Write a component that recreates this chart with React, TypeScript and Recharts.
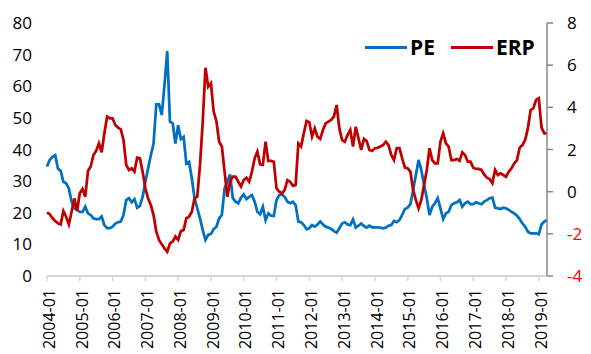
import { CartesianGrid, Line, LineChart, XAxis, YAxis } from "recharts";

// monthly, 2004-01 .. 2019-04
const months: string[] = [];
for (let y = 2004; y <= 2019; y++) {
  for (let m = 1; m <= 12; m++) {
    if (y === 2019 && m > 4) break;
    months.push(`${y}-${String(m).padStart(2, "0")}`);
  }
}

const pe = [
  34.6, 36.7, 37.7, 38.2, 34, 33.2, 29.8, 29.3, 27.7, 23.5, 21.4, 20.9,
  20.3, 20.3, 21.9, 19.8, 19.3, 18.2, 18, 18, 18.8, 16.1, 15.1, 15.1,
  15.6, 16.6, 17, 17.2, 19.3, 24, 24.6, 23.3, 24.3, 21.6, 22.2, 25,
  29.8, 34, 38.2, 41.9, 54.3, 54.3, 50.9, 60.4, 71.1, 48.8, 48.3, 41.9,
  47.7, 43.3, 44, 35.6, 36.1, 30.9, 24.6, 21.4, 18.2, 14.5, 11.4, 13,
  13.3, 14.8, 15.6, 18.2, 19.3, 27.7, 29.8, 32.1, 24.6, 23.5, 23, 24.8,
  25.8, 24.3, 25, 25.6, 23.5, 20.3, 19.5, 21.9, 17.7, 19.8, 19.1, 19,
  24, 25.6, 25.8, 25, 23.5, 23, 23.5, 22.4, 17.2, 17, 16.1, 14.8,
  15.1, 16.1, 15.6, 16.3, 17.2, 16.3, 15.6, 15.3, 14.9, 14.2, 13.7, 15.1,
  16.6, 17, 16.3, 16.1, 17.9, 15.3, 15.9, 16.6, 15.8, 15.3, 15.9, 15.4,
  15.4, 15.4, 15.3, 15.1, 15.3, 15.9, 16.1, 17.4, 17, 17.7, 19.3, 21.2,
  21.6, 22.7, 27.2, 31.9, 36.7, 33.5, 28.8, 24.6, 19.3, 21.9, 23, 24.6,
  21.4, 18, 19.8, 20.3, 22.4, 23, 23.3, 24, 21.9, 23, 23.5, 22.7,
  22.7, 23.3, 23, 22.7, 23.5, 24, 24.6, 24.8, 21.6, 21.4, 21.2, 21.6,
  21.4, 20.9, 20.3, 19.8, 19.1, 18, 16.6, 15.6, 14, 13.5, 13.5, 13.5,
  13.2, 16.3, 17.2, 17.7,
];

const erp = [
  -0.98, -1.07, -1.26, -1.39, -1.5, -1.55, -0.92, -1.19, -1.55, -0.95, -0.32, -0.92,
  -0.08, 0.13, -0.24, 0.98, 1.19, 1.74, 1.93, 2.29, 1.87, 2.77, 3.56, 3.48,
  3.48, 3.16, 3.04, 2.96, 2.45, 1.27, 1.03, 1.11, 0.95, 1.61, 1.58, 0.95,
  0.16, -0.32, -0.63, -1.11, -1.9, -2.29, -2.5, -2.69, -2.85, -2.45, -2.37, -2.13,
  -2.29, -1.87, -1.82, -1.26, -1.19, -0.95, -0.32, -0.24, 1.27, 3.32, 5.88, 4.98,
  5.14, 3.8, 3.35, 2.37, 2.14, 0.95, -0.24, 0.47, 0.71, 0.71, 0.47, 0.24,
  0.55, 0.66, 0.47, 0.95, 1.58, 1.9, 1.3, 1.27, 2.37, 1.46, 1.46, 1.42,
  0.16, 0, -0.08, 0.08, 0.55, 0.47, 0.28, 0.32, 2.29, 2.14, 2.77, 3.35,
  3.29, 2.61, 3.0, 2.61, 2.5, 2.93, 3.24, 3.32, 3.4, 3.56, 4.11, 3.0,
  2.45, 2.37, 2.69, 2.93, 2.14, 3.08, 2.53, 1.98, 2.5, 2.4, 1.98, 1.93,
  2.06, 2.08, 2.14, 2.21, 2.37, 2.21, 1.74, 1.5, 2.06, 2.06, 1.58, 1.14,
  1.11, 0.95, 0.08, -0.39, -0.79, -0.39, 0.32, 1.03, 2.06, 1.5, 1.34, 1.34,
  2.37, 2.77, 2.29, 2.14, 1.5, 1.5, 1.55, 1.46, 1.87, 1.74, 1.42, 1.42,
  1.14, 1.08, 1.08, 1.03, 0.82, 0.66, 0.6, 0.4, 1.03, 0.79, 0.87, 0.79,
  0.71, 0.95, 1.11, 1.34, 1.5, 2.09, 2.21, 2.45, 3.0, 3.87, 3.95, 4.35,
  4.43, 3.04, 2.77, 2.77,
];

const peTicks = [0, 10, 20, 30, 40, 50, 60, 70, 80];
const erpTicks = [-4, -2, 0, 2, 4, 6, 8];

const data = months.map((month, i) => ({ month, PE: pe[i], ERP: erp[i] }));

const FONT = "'Open Sans', 'DejaVu Sans', sans-serif";
const BLUE = "#0070C0";
const RED = "#C00000";

function MonthTick({ x, y, payload }: any) {
  return (
    <text
      x={x + 2}
      y={y}
      transform={`rotate(-90, ${x + 2}, ${y})`}
      textAnchor="end"
      dy="0.36em"
      fontSize={16}
      fontFamily={FONT}
      fill="#000"
    >
      {payload.value}
    </text>
  );
}

function ErpTick({ x, y, payload }: any) {
  return (
    <text
      x={x}
      y={y}
      dy="0.36em"
      textAnchor="start"
      fontSize={17}
      fontFamily={FONT}
      fill={payload.value < 0 ? "#FF0000" : "#000"}
    >
      {payload.value}
    </text>
  );
}

function LegendItem({ color, label }: { color: string; label: string }) {
  return (
    <div style={{ display: "flex", alignItems: "center", marginRight: 16 }}>
      <div style={{ width: 42, height: 3, background: color, marginRight: 3 }} />
      <span style={{ fontFamily: FONT, fontWeight: 700, fontSize: 21, color: "#000", lineHeight: "24px" }}>
        {label}
      </span>
    </div>
  );
}

export default function App() {
  return (
    <div style={{ position: "absolute", left: 0, top: 0, width: 591, height: 354, background: "#fff" }}>
      <LineChart width={591} height={354} data={data} margin={{ top: 23, right: 0, bottom: 0, left: 0 }}>
        <CartesianGrid vertical={false} horizontal={false} />
        <XAxis
          dataKey="month"
          interval={11}
          height={78}
          tickSize={5}
          tickMargin={8}
          stroke="#d6d6d6"
          axisLine={{ stroke: "#d6d6d6", strokeWidth: 2 }}
          tickLine={{ stroke: "#d6d6d6", strokeWidth: 1.5 }}
          tick={<MonthTick />}
        />
        <YAxis
          yAxisId="left"
          orientation="left"
          width={47}
          domain={[0, 80]}
          ticks={peTicks}
          axisLine={false}
          tickLine={false}
          tickSize={0}
          tickMargin={15}
          tick={{ fontSize: 17, fontFamily: FONT, fill: "#000" }}
        />
        <YAxis
          yAxisId="right"
          orientation="right"
          width={44}
          domain={[-4, 8]}
          ticks={erpTicks}
          axisLine={{ stroke: "#868686", strokeWidth: 1.5 }}
          tickLine={{ stroke: "#868686", strokeWidth: 1.5 }}
          tickSize={6}
          tickMargin={14}
          tick={<ErpTick />}
        />
        <Line
          yAxisId="left"
          type="linear"
          dataKey="PE"
          stroke={BLUE}
          strokeWidth={2.75}
          dot={false}
          isAnimationActive={false}
        />
        <Line
          yAxisId="right"
          type="linear"
          dataKey="ERP"
          stroke={RED}
          strokeWidth={2.75}
          dot={false}
          isAnimationActive={false}
        />
      </LineChart>
      <div style={{ position: "absolute", left: 365, top: 35, display: "flex" }}>
        <LegendItem color={BLUE} label="PE" />
        <LegendItem color={RED} label="ERP" />
      </div>
    </div>
  );
}
